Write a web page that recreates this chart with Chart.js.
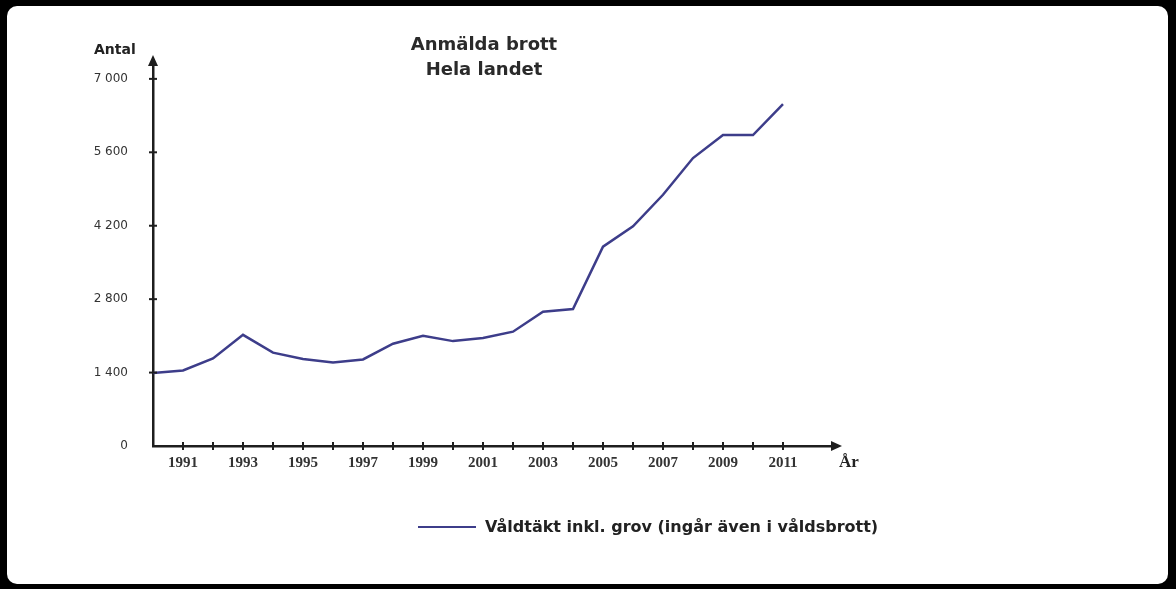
<!DOCTYPE html>
<html>
<head>
<meta charset="utf-8">
<script src="https://cdn.jsdelivr.net/npm/chart.js@4/dist/chart.umd.min.js"></script>
<style>
  html, body { margin: 0; padding: 0; background: #000; }
  body { width: 1176px; height: 589px; position: relative; overflow: hidden; }
  .sheet { position: absolute; left: 7px; top: 6px; width: 1161px; height: 578px; background: #fff; border-radius: 10px; }
  #wrap { position: absolute; left: 0; top: 0; width: 1176px; height: 589px; }
  .txt { position: absolute; font-family: "DejaVu Sans", sans-serif; font-weight: bold; color: #222; white-space: nowrap; }
  .title { left: 384px; top: 31px; width: 200px; text-align: center; font-size: 18px; line-height: 25px; color: #2a2a2a; }
  .antal { left: 94px; top: 41px; font-size: 14px; }
  .ar { left: 839px; top: 452px; font-family: "Liberation Serif", serif; font-size: 17px; }
  .legend { left: 418px; top: 517px; font-size: 16px; }
  .legend span.sw { display: inline-block; width: 58px; height: 0; border-top: 2.5px solid #3d3d8a; vertical-align: middle; margin-right: 9px; position: relative; top: -1px; }
</style>
</head>
<body>
<div class="sheet"></div>
<div id="wrap"><canvas id="chart" width="1176" height="589"></canvas></div>
<div class="txt title">Anmälda brott<br>Hela landet</div>
<div class="txt antal">Antal</div>
<div class="txt ar">År</div>
<div class="txt legend"><span class="sw"></span>Våldtäkt inkl. grov (ingår även i våldsbrott)</div>
<script>
// data
const years = [1990, 1991, 1992, 1993, 1994, 1995, 1996, 1997, 1998, 1999, 2000,
               2001, 2002, 2003, 2004, 2005, 2006, 2007, 2008, 2009, 2010, 2011];
const valdtakt = [1390, 1440, 1670, 2120, 1780, 1660, 1590, 1650, 1950, 2100, 2000,
                  2060, 2180, 2560, 2610, 3800, 4190, 4790, 5490, 5930, 5930, 6520];
const yTicks = [0, 1400, 2800, 4200, 5600, 7000];
const labeledYears = [1991, 1993, 1995, 1997, 1999, 2001, 2003, 2005, 2007, 2009, 2011];

const axisColor = '#1e1e1e';
const lineColor = '#3d3d8a';

function fmt(v) {
  return String(v).replace(/\B(?=(\d{3})+(?!\d))/g, ' ');
}

// tick crosses and arrow heads on the axes
const axisMarks = {
  id: 'axisMarks',
  afterDraw(chart) {
    const ctx = chart.ctx;
    const xs = chart.scales.x, ys = chart.scales.y;
    const x0 = xs.left, y0 = ys.bottom;
    ctx.save();
    ctx.strokeStyle = axisColor;
    ctx.fillStyle = axisColor;
    ctx.lineWidth = 2;
    xs.ticks.forEach(t => {
      if (t.value === years[0]) return;
      const px = xs.getPixelForValue(t.value);
      ctx.beginPath(); ctx.moveTo(px, y0 - 4); ctx.lineTo(px, y0 + 4); ctx.stroke();
    });
    ys.ticks.forEach(t => {
      if (t.value === 0) return;
      const py = ys.getPixelForValue(t.value);
      ctx.beginPath(); ctx.moveTo(x0 - 4, py); ctx.lineTo(x0 + 4, py); ctx.stroke();
    });
    // arrow up
    ctx.beginPath();
    ctx.moveTo(x0, ys.top - 5);
    ctx.lineTo(x0 - 5, ys.top + 6);
    ctx.lineTo(x0 + 5, ys.top + 6);
    ctx.closePath(); ctx.fill();
    // arrow right
    ctx.beginPath();
    ctx.moveTo(xs.right + 5, y0);
    ctx.lineTo(xs.right - 6, y0 - 5);
    ctx.lineTo(xs.right - 6, y0 + 5);
    ctx.closePath(); ctx.fill();
    ctx.restore();
  }
};

new Chart(document.getElementById('chart'), {
  type: 'line',
  data: {
    datasets: [{
      label: 'Våldtäkt inkl. grov (ingår även i våldsbrott)',
      data: years.map((y, i) => ({ x: y, y: valdtakt[i] })),
      borderColor: lineColor,
      borderWidth: 2.5,
      pointRadius: 0,
      tension: 0,
      fill: false
    }]
  },
  options: {
    responsive: false,
    animation: false,
    layout: { padding: { left: 0, top: 60, right: 339, bottom: 0 } },
    plugins: { legend: { display: false }, tooltip: { enabled: false }, title: { display: false } },
    scales: {
      x: {
        type: 'linear',
        min: 1990,
        max: 2012.8,
        afterFit(scale) { scale.height = 143; },
        afterBuildTicks(scale) {
          scale.ticks = years.filter(y => y > 1990).map(y => ({ value: y }));
        },
        grid: { display: false, drawTicks: false },
        border: { display: true, color: axisColor, width: 2.5 },
        ticks: {
          autoSkip: false,
          maxRotation: 0,
          padding: 8,
          color: '#333',
          font: { family: 'Liberation Serif', size: 15, weight: 'bold' },
          callback: v => labeledYears.includes(v) ? String(v) : ''
        }
      },
      y: {
        min: 0,
        max: 7360,
        afterFit(scale) { scale.width = 153; },
        afterBuildTicks(scale) {
          scale.ticks = yTicks.map(v => ({ value: v }));
        },
        grid: { display: false, drawTicks: false },
        border: { display: true, color: axisColor, width: 2.5 },
        ticks: {
          padding: 25,
          color: '#333',
          font: { family: 'DejaVu Sans', size: 12 },
          callback: v => fmt(v)
        }
      }
    }
  },
  plugins: [axisMarks]
});
</script>
</body>
</html>
